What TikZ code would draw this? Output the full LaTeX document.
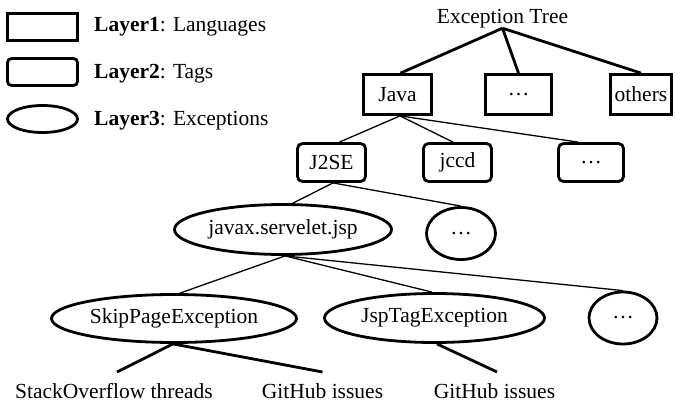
\documentclass[tikz,border=0pt]{standalone}
\usepackage{fontspec}
\setmainfont{Liberation Serif}
\usetikzlibrary{shapes.geometric}
\tikzset{
  txt/.style={font=\fontsize{21.5}{25}\selectfont},
  lang/.style={txt, draw, line width=2.8pt, rectangle, inner sep=1pt},
  tagbox/.style={txt, draw, line width=2.8pt, rectangle, rounded corners=5pt, inner sep=1pt},
  exc/.style={txt, draw, line width=2.8pt, ellipse, inner sep=0pt},
  thickline/.style={line width=2.8pt},
  thinline/.style={line width=1.3pt},
  lbl/.style={txt, inner xsep=0pt, inner ysep=11pt, text height=15pt, text depth=5pt},
}
\begin{document}
\begin{tikzpicture}[x=1pt,y=-1pt]
\useasboundingbox (0,0) rectangle (675,407);
% legend
\node[lang, minimum width=70pt, minimum height=27pt] (lg1) at (42.5,27) {};
\node[tagbox, minimum width=70pt, minimum height=27pt, rounded corners=4pt] (lg2) at (42.5,72) {};
\node[exc, minimum width=70pt, minimum height=27pt] (lg3) at (42.5,119) {};
\node[txt, anchor=base west, inner sep=0pt] (lt1) at (94,31) {\textbf{Layer1}: Languages};
\node[txt, anchor=base west, inner sep=0pt] (lt2) at (94,78) {\textbf{Layer2}: Tags};
\node[txt, anchor=base west, inner sep=0pt] (lt3) at (94,125) {\textbf{Layer3}: Exceptions};
% tree
\node[txt, anchor=base, inner sep=0pt, text depth=5pt] (root) at (502.5,23) {Exception Tree};
\node[lang, minimum width=68pt, minimum height=40pt] (java) at (397.5,94.5) {Java};
\node[lang, minimum width=66pt, minimum height=40pt] (l1dots) at (518.5,94.5) {\dots};
\node[lang, minimum width=61pt, minimum height=40pt] (others) at (641,94.5) {others};
\node[tagbox, minimum width=68pt, minimum height=38pt] (j2se) at (331.5,162.5) {J2SE};
\node[tagbox, minimum width=68pt, minimum height=38pt] (jccd) at (457.5,162.5) {jccd};
\node[tagbox, minimum width=65pt, minimum height=38pt] (l2dots) at (591,162.5) {\dots};
\node[exc, minimum width=217pt, minimum height=50pt] (jsp) at (283,229.5) {javax.servelet.jsp};
\node[exc, minimum width=69pt, minimum height=52pt] (l3dots) at (461,233.5) {\dots};
\node[exc, minimum width=245pt, minimum height=48pt] (skip) at (174,318.5) {SkipPageException};
\node[exc, minimum width=220pt, minimum height=49pt] (jsptag) at (434.5,318) {JspTagException};
\node[exc, minimum width=68pt, minimum height=52pt] (l4dots) at (623,318) {\dots};
\node[lbl, anchor=north] (so) at (114,372) {StackOverflow threads};
\node[lbl, anchor=north] (gh1) at (322.5,372) {GitHub issues};
\node[lbl, anchor=north] (gh2) at (494.5,372) {GitHub issues};
% connectors
\draw[thickline] (root.south) -- ([xshift=3pt]java.north);
\draw[thickline] (root.south) -- (l1dots.north);
\draw[thickline] (root.south) -- (others.north);
\draw[thinline] ([xshift=2.5pt]java.south) -- ([xshift=8pt]j2se.north);
\draw[thinline] ([xshift=2.5pt]java.south) -- ([xshift=-4.5pt]jccd.north);
\draw[thinline] ([xshift=2.5pt]java.south) -- ([xshift=-13pt]l2dots.north);
\draw[thinline] ([xshift=1.5pt]j2se.south) -- ([xshift=10pt]jsp.north);
\draw[thinline] ([xshift=1.5pt]j2se.south) -- (l3dots.north);
\draw[thinline] ([xshift=2pt]jsp.south) -- ([xshift=6pt]skip.north);
\draw[thinline] ([xshift=2pt]jsp.south) -- ([xshift=-2.5pt]jsptag.north);
\draw[thinline] ([xshift=2pt]jsp.south) -- (l4dots.north);
\draw[thickline] ([xshift=-1pt]skip.south) -- ([xshift=3pt]so.north);
\draw[thickline] ([xshift=-1pt]skip.south) -- (gh1.north);
\draw[thickline] ([xshift=2.5pt]jsptag.south) -- ([xshift=2.5pt]gh2.north);
\end{tikzpicture}
\end{document}
